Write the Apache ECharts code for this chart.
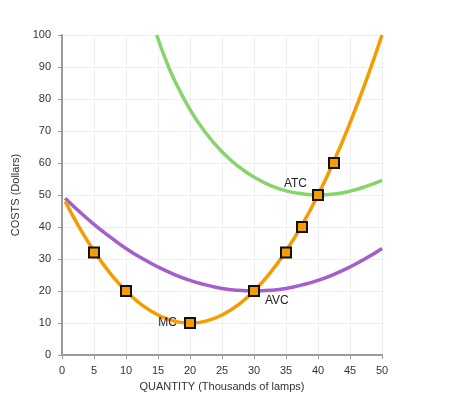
<!DOCTYPE html>
<html>
<head>
<meta charset="utf-8">
<script src="https://cdn.jsdelivr.net/npm/echarts@6/dist/echarts.min.js"></script>
<style>
  html, body { margin: 0; padding: 0; background: #fff; }
  #container { width: 453px; height: 415px; }
</style>
</head>
<body>
<div id="container"></div>
<script>
// values
var mcQty   = [0.5, 2.5, 5, 7.5, 10, 12.5, 15, 17.5, 20, 22.5, 25, 27.5, 30, 32.5, 35, 37.5, 40, 42.5, 45, 47.5, 50];
var mcCost  = [48, 40.6, 32.5, 25.6, 20, 15.6, 12.5, 10.6, 10, 10.6, 12.5, 15.6, 20, 25.6, 32.5, 40.6, 50, 60.6, 72.5, 85.6, 100];

var avcQty  = [0.5, 2.5, 5, 7.5, 10, 12.5, 15, 17.5, 20, 22.5, 25, 27.5, 30, 32.5, 35, 37.5, 40, 42.5, 45, 47.5, 50];
var avcCost = [49, 45.2, 40.8, 36.9, 33.3, 30.2, 27.5, 25.2, 23.3, 21.9, 20.8, 20.2, 20, 20.2, 20.8, 21.9, 23.3, 25.2, 27.5, 30.2, 33.3];

var atcQty  = [14.8, 16, 17.5, 20, 22.5, 25, 27.5, 30, 32.5, 35, 37.5, 40, 42.5, 45, 47.5, 50];
var atcCost = [100, 93.3, 86.2, 76.7, 69.3, 63.5, 59.0, 55.6, 53.0, 51.3, 50.4, 50.0, 50.3, 51.2, 52.7, 54.6];

var pointQty  = [5, 10, 20, 30, 35, 37.5, 40, 42.5];
var pointCost = [32, 20, 10, 20, 32, 40, 50, 60];

var xTicks = [0, 50, 5];   // min, max, step
var yTicks = [0, 100, 10];

function pairs(xs, ys) {
    var out = [];
    for (var i = 0; i < xs.length; i++) out.push([xs[i], ys[i]]);
    return out;
}

var ORANGE = '#f59c00', GREEN = '#86d46a', PURPLE = '#a35fcb';
var labelStyle = { color: '#222', fontSize: 12, fontFamily: 'Liberation Sans, Arial, sans-serif' };

// curve labels sit next to squares on MC
var markerData = pairs(pointQty, pointCost).map(function (p) { return { value: p }; });
markerData[2].label = Object.assign({ show: true, formatter: 'MC', position: 'left', distance: 7 }, labelStyle);
markerData[6].label = Object.assign({ show: true, formatter: 'ATC', position: 'left', distance: 6, offset: [1, -11] }, labelStyle);
markerData[3].label = Object.assign({ show: true, formatter: 'AVC', position: 'right', distance: 5, offset: [0, 10] }, labelStyle);

var axisText = { color: '#333', fontSize: 11, fontFamily: 'Liberation Sans, Arial, sans-serif' };

var myChart = echarts.init(document.getElementById('container'));
var option = {
    animation: false,
    grid: { left: 62, right: 71, top: 35, bottom: 60, containLabel: false },
    xAxis: {
        type: 'value', min: xTicks[0], max: xTicks[1], interval: xTicks[2],
        name: 'QUANTITY (Thousands of lamps)', nameLocation: 'middle', nameGap: 26,
        nameTextStyle: axisText,
        axisLine: { onZero: false, lineStyle: { color: '#9a9a9a', width: 2 } },
        axisTick: { show: true, length: 4, lineStyle: { color: '#9a9a9a' } },
        axisLabel: Object.assign({ margin: 10 }, axisText),
        splitLine: { show: true, lineStyle: { color: '#efefef' } }
    },
    yAxis: {
        type: 'value', min: yTicks[0], max: yTicks[1], interval: yTicks[2],
        name: 'COSTS (Dollars)', nameLocation: 'middle', nameGap: 40,
        nameTextStyle: axisText,
        axisLine: { show: true, onZero: false, lineStyle: { color: '#9a9a9a', width: 2 } },
        axisTick: { show: true, length: 4, lineStyle: { color: '#9a9a9a' } },
        axisLabel: Object.assign({ margin: 11 }, axisText),
        splitLine: { show: true, lineStyle: { color: '#efefef' } }
    },
    series: [
        {
            name: 'ATC', type: 'line', smooth: true, showSymbol: false,
            data: pairs(atcQty, atcCost),
            lineStyle: { color: GREEN, width: 3.5 }
        },
        {
            name: 'AVC', type: 'line', smooth: true, showSymbol: false,
            data: pairs(avcQty, avcCost),
            lineStyle: { color: PURPLE, width: 3.5 }
        },
        {
            name: 'MC', type: 'line', smooth: true, showSymbol: false,
            data: pairs(mcQty, mcCost),
            lineStyle: { color: ORANGE, width: 3.5 }
        },
        {
            name: 'points', type: 'scatter', symbol: 'rect', symbolSize: 10,
            data: markerData,
            itemStyle: { color: ORANGE, borderColor: '#111', borderWidth: 2, opacity: 1 },
            z: 5
        }
    ]
};
myChart.setOption(option);
</script>
</body>
</html>
